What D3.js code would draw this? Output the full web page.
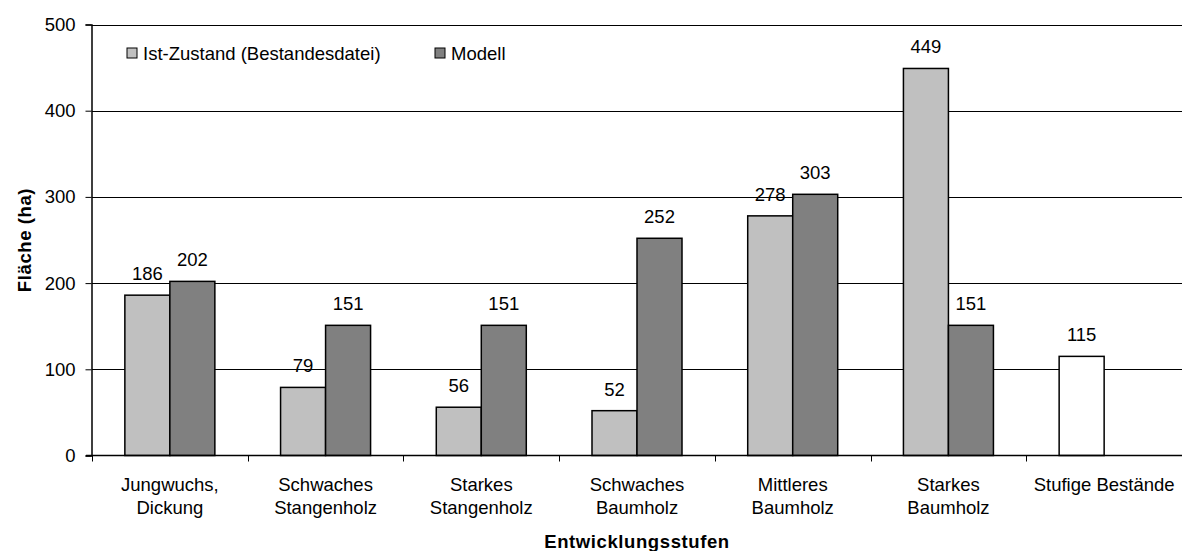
<html>
<style>
  body { margin: 0px; background: #fff; }
  text { font-family: Arial, "Liberation Sans", sans-serif; }
</style>
<body>
<svg id="viz"></svg>
</body>
<script src="https://d3js.org/d3.v7.min.js"></script>
<script>
var width = 1182;
var height = 551;
var fontSize = 18.5;

// data
var categories = [
  ["Jungwuchs,", "Dickung"],
  ["Schwaches", "Stangenholz"],
  ["Starkes", "Stangenholz"],
  ["Schwaches", "Baumholz"],
  ["Mittleres", "Baumholz"],
  ["Starkes", "Baumholz"],
  ["Stufige Bestände"]
];
var istValues = [186, 79, 56, 52, 278, 449, 115];
var modellValues = [202, 151, 151, 252, 303, 151, null];
var seriesNames = ["Ist-Zustand (Bestandesdatei)", "Modell"];
var yTicks = [0, 100, 200, 300, 400, 500];

var margin = {left: 92, right: 0, top: 24.5, bottom: 96};

var svg = d3.select("#viz").attr("width", width).attr("height", height);

var x0 = d3.scaleBand()
    .domain(d3.range(categories.length))
    .range([margin.left, width - margin.right])
    .paddingInner(0.422)
    .paddingOuter(0.211);

var x1 = d3.scaleBand()
    .domain([0, 1])
    .range([0, x0.bandwidth()]);

var y = d3.scaleLinear()
    .domain([0, 500])
    .range([height - margin.bottom + 0.5, margin.top]);

var step = x0.step();

// grid lines
svg.append("g")
    .selectAll("line")
    .data(yTicks.filter(function(d) { return d > 0; }))
    .enter()
    .append("line")
    .attr("x1", margin.left)
    .attr("x2", width)
    .attr("y1", function(d) { return Math.round(y(d)) + 0.5; })
    .attr("y2", function(d) { return Math.round(y(d)) + 0.5; })
    .attr("stroke", "#000")
    .attr("stroke-width", 1);

// y axis
var yAxis = svg.append("g")
    .attr("transform", "translate(" + (margin.left - 0.5) + ",0)")
    .call(d3.axisLeft(y).tickValues(yTicks).tickSize(6).tickPadding(10));
yAxis.select(".domain").attr("stroke", "#000").attr("stroke-width", 1.5);
yAxis.selectAll(".tick line").attr("stroke", "#000");
yAxis.selectAll(".tick text")
    .attr("font-size", fontSize)
    .attr("font-family", "Arial, 'Liberation Sans', sans-serif")
    .attr("fill", "#000");

// bars
var rows = categories.map(function(c, i) {
  return {i: i, vals: [istValues[i], modellValues[i]]};
});

var groups = svg.append("g")
    .selectAll("g")
    .data(rows)
    .enter()
    .append("g")
    .attr("transform", function(d) { return "translate(" + x0(d.i) + ",0)"; });

var bar = groups.selectAll("g")
    .data(function(d) {
      return d.vals.map(function(v, k) {
        return {k: k, v: v, single: d.vals[1] == null};
      }).filter(function(o) { return o.v != null; });
    })
    .enter()
    .append("g");

bar.append("rect")
    .attr("x", function(d) { return x1(d.k); })
    .attr("width", x1.bandwidth())
    .attr("y", function(d) { return y(d.v); })
    .attr("height", function(d) { return y(0) - y(d.v); })
    .attr("fill", function(d) {
      if (d.single) return "#ffffff";
      return d.k == 0 ? "#c0c0c0" : "#808080";
    })
    .attr("stroke", "#000")
    .attr("stroke-width", 1.5);

bar.append("text")
    .attr("x", function(d) { return x1(d.k) + x1.bandwidth() / 2; })
    .attr("y", function(d) { return y(d.v) - 15; })
    .attr("text-anchor", "middle")
    .attr("font-size", fontSize)
    .attr("fill", "#000")
    .text(function(d) { return d.v; });

// x axis line and ticks
var y0 = y(0);
svg.append("line")
    .attr("x1", margin.left - 6)
    .attr("x2", width)
    .attr("y1", y0)
    .attr("y2", y0)
    .attr("stroke", "#000")
    .attr("stroke-width", 1.5);

svg.append("g")
    .selectAll("line")
    .data(d3.range(categories.length))
    .enter()
    .append("line")
    .attr("x1", function(i) { return Math.round(x0(i) - step * 0.211) + 0.5; })
    .attr("x2", function(i) { return Math.round(x0(i) - step * 0.211) + 0.5; })
    .attr("y1", y0)
    .attr("y2", y0 + 6)
    .attr("stroke", "#000");

var catLabels = svg.append("g")
    .selectAll("text")
    .data(categories)
    .enter()
    .append("text")
    .attr("text-anchor", "middle")
    .attr("font-size", fontSize)
    .attr("fill", "#000")
    .attr("transform", function(d, i) {
      return "translate(" + (x0(i) + x0.bandwidth() / 2) + "," + (y0 + 35) + ")";
    });

catLabels.selectAll("tspan")
    .data(function(d) { return d; })
    .enter()
    .append("tspan")
    .attr("x", 0)
    .attr("dy", function(d, j) { return j == 0 ? 0 : 23; })
    .text(function(d) { return d; });

// axis titles
svg.append("text")
    .attr("x", (margin.left + width) / 2)
    .attr("y", 548)
    .attr("text-anchor", "middle")
    .attr("font-size", fontSize)
    .attr("font-weight", "bold")
    .attr("letter-spacing", 0.6)
    .text("Entwicklungsstufen");

svg.append("text")
    .attr("transform", "translate(31," + ((y(0) + y(500)) / 2) + ") rotate(-90)")
    .attr("text-anchor", "middle")
    .attr("font-size", fontSize)
    .attr("font-weight", "bold")
    .attr("letter-spacing", 0.6)
    .text("Fläche (ha)");

// legend
var legendX = [127, 435];
var legendFill = ["#c0c0c0", "#808080"];
var legend = svg.append("g")
    .selectAll("g")
    .data(seriesNames)
    .enter()
    .append("g")
    .attr("transform", function(d, i) { return "translate(" + legendX[i] + ",48)"; });

legend.append("rect")
    .attr("width", 10)
    .attr("height", 10)
    .attr("fill", function(d, i) { return legendFill[i]; })
    .attr("stroke", "#000")
    .attr("stroke-width", 1);

legend.append("text")
    .attr("x", 16)
    .attr("y", 12)
    .attr("font-size", fontSize)
    .attr("fill", "#000")
    .text(function(d) { return d; });
</script>
</html>
